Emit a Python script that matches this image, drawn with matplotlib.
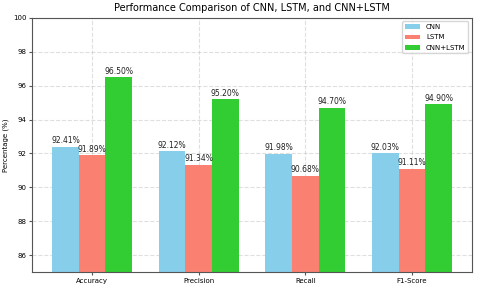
import matplotlib.pyplot as plt
import numpy as np

metrics = ["Accuracy", "Precision", "Recall", "F1-Score"]
cnn = [92.41, 92.12, 91.98, 92.03]
lstm = [91.89, 91.34, 90.68, 91.11]
cnn_lstm = [96.50, 95.20, 94.70, 94.90]

series = [("CNN", cnn, "skyblue"), ("LSTM", lstm, "salmon"), ("CNN+LSTM", cnn_lstm, "limegreen")]

fig, ax = plt.subplots(figsize=(4.8, 2.9), dpi=100)
x = np.arange(len(metrics))
width = 0.25

for i, (name, vals, color) in enumerate(series):
    bars = ax.bar(x + (i - 1) * width, vals, width, label=name, color=color)
    for b, v in zip(bars, vals):
        ax.text(b.get_x() + b.get_width() / 2, v + 0.08, f"{v:.2f}%",
                ha="center", va="bottom", fontsize=5.5, color="#222222")

ax.set_ylim(85, 100)
ax.set_xticks(x)
ax.set_xticklabels(metrics, fontsize=5.5)
ax.tick_params(axis="both", labelsize=5, length=2, pad=2, color="#555555")
ax.set_ylabel("Percentage (%)", fontsize=5, labelpad=3)
ax.set_title("Performance Comparison of CNN, LSTM, and CNN+LSTM", fontsize=7, pad=5)
ax.legend(fontsize=5, loc="upper right", handlelength=2.2, labelspacing=0.6)
ax.grid(True, linestyle="--", alpha=0.4)
ax.set_axisbelow(True)
for s in ax.spines.values():
    s.set_color("#555555")

plt.subplots_adjust(left=0.067, right=0.983, top=0.938, bottom=0.062)
plt.savefig("out.png")
